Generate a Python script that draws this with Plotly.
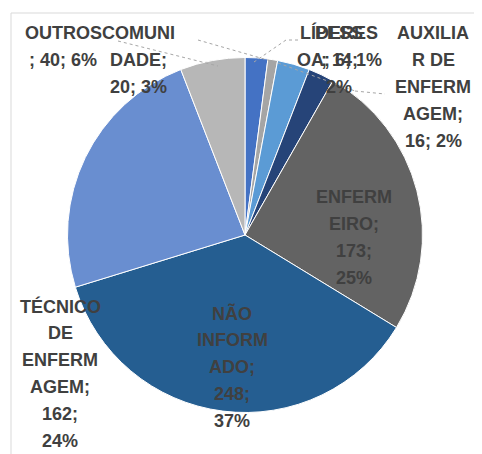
import plotly.graph_objects as go

# ---- data (clockwise from 12 o'clock) ----
categories = ["LÍDERES", "PESSOA", "COMUNIDADE", "AUXILIAR DE ENFERMAGEM",
              "ENFERMEIRO", "NÃO INFORMADO", "TÉCNICO DE ENFERMAGEM", "OUTROS"]
values = [14, 6, 20, 16, 173, 248, 162, 40]
colors = ["#4472C4", "#A5A5A5", "#5B9BD5", "#264478",
          "#636363", "#255E91", "#698ED0", "#B7B7B7"]

# label wrapping (as in the original Excel labels)
wrapped_names = {
    "LÍDERES": ["LÍDERES", ";"],
    "PESSOA": ["PESS", "OA;"],
    "COMUNIDADE": ["COMUNI", "DADE;"],
    "AUXILIAR DE ENFERMAGEM": ["AUXILIA", "R DE", "ENFERM", "AGEM;"],
    "ENFERMEIRO": ["ENFERM", "EIRO;"],
    "NÃO INFORMADO": ["NÃO", "INFORM", "ADO;"],
    "TÉCNICO DE ENFERMAGEM": ["TÉCNICO", "DE", "ENFERM", "AGEM;"],
    "OUTROS": ["OUTROS"],
}

W, H = 482, 454
total = sum(values)

def pct(v):
    return f"{round(100 * v / total)}%"

def label_lines(name, v):
    parts = list(wrapped_names[name])
    if name == "OUTROS":
        return parts + [f"; {v}; {pct(v)}"]
    if name == "LÍDERES":
        return ["LÍDERES", f"; {v};", pct(v)]
    if name == "PESSOA":
        return ["PESS", f"OA; {v}; {pct(v)}"]
    if name in ("COMUNIDADE", "AUXILIAR DE ENFERMAGEM"):
        return parts + [f"{v}; {pct(v)}"]
    return parts + [f"{v};", pct(v)]

# label placement (pixel centre x, first-line centre y) -- styling only
label_pos = {
    "OUTROS": (55, 25),
    "COMUNIDADE": (130, 25),
    "LÍDERES": (331, 25),
    "PESSOA": (331, 25),
    "AUXILIAR DE ENFERMAGEM": (425, 25),
    "ENFERMEIRO": (346, 189),
    "NÃO INFORMADO": (224, 305),
    "TÉCNICO DE ENFERMAGEM": (52, 298),
}
LINE = 27

# pie geometry (pixels) -- tuned so rendered pie centre lands at (245, 234)
cx, cy, R = 237, 227, 177.5

fig = go.Figure(go.Pie(
    labels=categories, values=values, sort=False, direction="clockwise",
    rotation=0, textinfo="none", hoverinfo="label+value+percent",
    marker=dict(colors=colors, line=dict(color="white", width=1)),
    domain=dict(x=[(cx - R) / W, (cx + R) / W],
                y=[(H - cy - R) / H, (H - cy + R) / H]),
    showlegend=False,
))

annotations = []
for name, v in zip(categories, values):
    px, py = label_pos[name]
    for i, line in enumerate(label_lines(name, v)):
        annotations.append(dict(
            x=px / W, y=1 - (py + i * LINE) / H, xref="paper", yref="paper",
            text=line, showarrow=False, xanchor="center", yanchor="middle",
            font=dict(family="Liberation Sans, Arial, sans-serif", size=18,
                      color="#404040", weight="bold"),
        ))

def P(x, y):
    return x / W, 1 - y / H

shapes = [dict(type="rect", xref="paper", yref="paper",
               x0=3 / W, y0=-0.1, x1=1.1, y1=1 - 5 / H,
               line=dict(color="#D9D9D9", width=1))]
leaders = [
    [(110, 33), (210, 58)],
    [(190, 32), (270, 55)],
    [(270, 55), (347, 83), (377, 86)],
    [(290, 32), (278, 32), (246, 54)],
]
for pts in leaders:
    for (x0, y0), (x1, y1) in zip(pts[:-1], pts[1:]):
        a0, b0 = P(x0, y0)
        a1, b1 = P(x1, y1)
        shapes.append(dict(type="line", xref="paper", yref="paper",
                           x0=a0, y0=b0, x1=a1, y1=b1,
                           line=dict(color="#A6A6A6", width=1, dash="dot")))

fig.update_layout(
    width=W, height=H, margin=dict(l=0, r=0, t=0, b=0),
    paper_bgcolor="white", plot_bgcolor="white",
    annotations=annotations, shapes=shapes,
)
fig.write_html("out.html")
